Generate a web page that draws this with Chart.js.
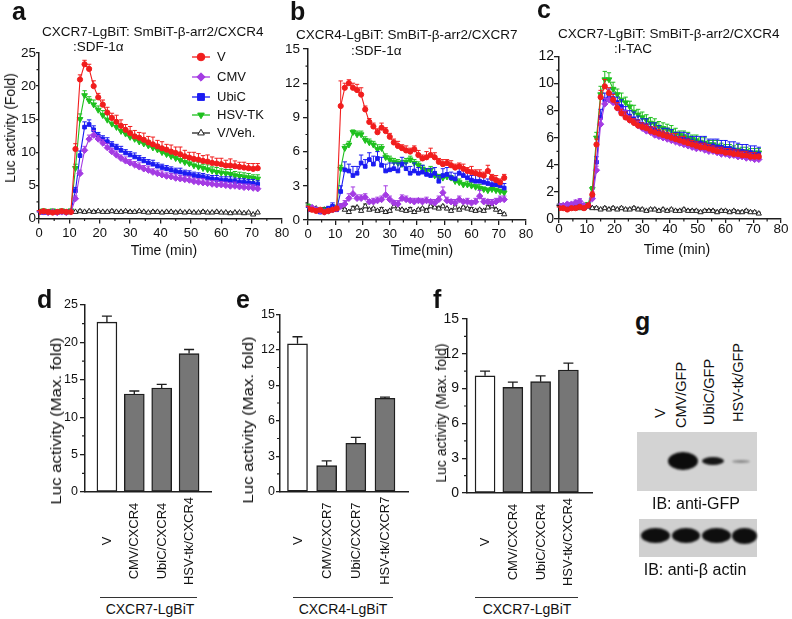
<!DOCTYPE html>
<html><head><meta charset="utf-8">
<script src="https://cdn.jsdelivr.net/npm/chart.js@4.4.1/dist/chart.umd.min.js"></script>
<style>
html,body{margin:0;padding:0;background:#fff;}
#root{position:relative;width:792px;height:619px;overflow:hidden;font-family:"Liberation Sans",Arial,Helvetica,sans-serif;color:#111;}
canvas{position:absolute;}
.t{position:absolute;white-space:nowrap;line-height:1;}
.band{position:absolute;border-radius:50%;filter:blur(1.2px);}
</style></head><body><div id="root"></div>
<script>
// ---------------- DATA ----------------
const timePoints = [0,1.5,3,4.5,6,7.5,9,10.5,12,13.5,15,16.5,18,19.5,21,22.5,24,25.5,27,28.5,30,31.5,33,34.5,36,37.5,39,40.5,42,43.5,45,46.5,48,49.5,51,52.5,54,55.5,57,58.5,60,61.5,63,64.5,66,67.5,69,70.5,72];
const seriesNames = ['V','CMV','UbiC','HSV-TK','V/Veh.'];

// panel a: CXCR7-LgBiT : SmBiT-b-arr2/CXCR4 : SDF-1a
const aV    = [1.0,1.1,1.0,0.9,1.0,1.1,1.0,1.0,10.5,21.0,23.3,22.6,20.0,18.3,17.2,16.0,15.2,14.6,14.0,13.4,12.9,12.4,12.2,11.9,11.5,11.2,10.9,10.6,10.4,10.1,9.9,9.7,9.4,9.2,9.0,8.9,8.7,8.6,8.4,8.3,8.2,8.0,8.0,7.9,7.8,7.7,7.6,7.5,7.6];
const aCMV  = [0.9,1.0,0.9,1.0,0.9,1.0,0.9,1.0,3.0,6.8,10.3,12.0,12.6,12.0,11.4,10.7,10.1,9.6,9.1,8.7,8.4,8.1,7.8,7.5,7.3,7.0,6.8,6.6,6.4,6.3,6.1,6.0,5.9,5.8,5.6,5.5,5.4,5.3,5.2,5.1,5.1,5.0,4.9,4.9,4.8,4.7,4.7,4.6,4.5];
const aUbiC = [1.0,0.9,1.0,1.0,0.9,1.0,1.0,1.1,4.2,9.5,13.8,14.2,13.4,12.5,12.0,11.6,11.1,10.7,10.3,9.9,9.6,9.3,9.0,8.7,8.4,8.2,7.9,7.7,7.5,7.3,7.1,7.0,6.8,6.7,6.5,6.4,6.3,6.1,6.0,5.9,5.8,5.8,5.7,5.6,5.5,5.5,5.4,5.3,5.2];
const aHSV  = [1.1,1.2,1.1,1.2,1.1,1.2,1.1,1.2,7.6,15.0,18.6,17.8,17.2,16.4,15.6,14.9,14.3,13.8,13.2,12.8,12.3,12.0,11.6,11.3,11.0,10.7,10.4,10.0,9.7,9.4,9.1,8.8,8.5,8.3,8.0,7.8,7.6,7.4,7.2,7.0,6.9,6.8,6.7,6.5,6.4,6.3,6.2,6.1,6.0];
const aVeh  = [0.9,1.0,0.9,1.0,0.9,1.0,0.9,1.0,1.0,1.1,1.0,1.1,1.0,1.1,1.0,1.0,1.1,1.0,1.0,1.1,1.0,1.0,1.1,1.0,0.9,1.0,1.0,0.9,1.0,1.0,0.9,1.0,0.9,1.0,0.9,0.9,1.0,0.9,0.9,1.0,0.9,0.9,0.8,0.9,0.9,0.8,0.9,0.6,0.9];
const aVErr    = [0.2,0.1,0.2,0.1,0.2,0.1,0.2,0.2,0.8,0.7,0.6,0.7,0.8,0.6,0.7,0.8,0.7,1.0,0.9,0.8,1.0,0.9,0.8,1.0,0.9,1.1,0.9,1.0,0.8,1.0,0.9,1.1,0.9,0.8,1.0,0.9,0.8,1.0,0.9,0.8,0.9,0.8,1.0,0.8,0.7,0.8,0.7,0.8,0.7];
const aCMVErr  = [0.1,0.1,0.1,0.1,0.1,0.1,0.1,0.1,0.4,0.5,0.6,0.6,0.7,0.5,0.5,0.6,0.5,0.6,0.5,0.6,0.5,0.5,0.6,0.5,0.6,0.5,0.5,0.6,0.5,0.5,0.6,0.5,0.5,0.6,0.5,0.5,0.6,0.5,0.5,0.6,0.5,0.5,0.5,0.6,0.5,0.5,0.5,0.5,0.4];
const aUbiCErr = [0.1,0.1,0.1,0.1,0.1,0.1,0.1,0.1,0.5,0.7,0.8,0.7,0.6,0.5,0.5,0.6,0.5,0.5,0.6,0.5,0.5,0.6,0.5,0.5,0.5,0.6,0.5,0.5,0.5,0.5,0.5,0.6,0.5,0.5,0.5,0.5,0.5,0.5,0.5,0.6,0.5,0.5,0.6,0.5,0.5,0.5,0.5,0.6,0.5];
const aHSVErr  = [0.1,0.1,0.1,0.1,0.1,0.1,0.1,0.1,0.6,0.8,0.7,0.6,0.7,0.6,0.7,0.8,0.7,0.6,0.8,0.7,0.9,0.7,0.8,0.7,0.8,0.7,0.7,0.8,0.7,0.7,0.8,0.7,0.7,0.6,0.7,0.7,0.6,0.7,0.6,0.7,0.6,0.6,0.7,0.6,0.6,0.6,0.6,0.5,0.6];
const aVehErr  = [0.1,0.1,0.1,0.1,0.1,0.1,0.1,0.1,0.1,0.2,0.1,0.1,0.2,0.1,0.1,0.1,0.2,0.1,0.1,0.1,0.2,0.1,0.1,0.1,0.1,0.2,0.1,0.1,0.1,0.1,0.2,0.1,0.1,0.1,0.1,0.1,0.2,0.1,0.1,0.1,0.1,0.1,0.2,0.1,0.1,0.1,0.1,0.1,0.1];

// panel b: CXCR4-LgBiT : SmBiT-b-arr2/CXCR7 : SDF-1a
const bV    = [1.0,0.9,0.8,0.9,0.7,0.8,0.9,1.0,10.0,11.6,12.0,11.6,11.4,11.0,9.7,8.6,8.2,7.7,8.1,7.8,7.3,6.8,6.5,6.3,6.1,6.0,6.2,5.7,5.4,5.5,5.7,5.5,5.1,4.9,5.0,4.8,4.6,4.7,4.5,4.3,4.2,4.1,4.0,3.9,4.3,3.7,3.5,3.3,3.7];
const bCMV  = [1.0,1.1,0.9,0.8,0.7,0.8,0.9,1.0,1.2,1.4,1.9,2.3,1.9,1.9,2.0,1.6,1.6,1.7,1.8,2.2,1.8,1.5,1.4,1.9,1.8,1.7,1.6,1.7,1.6,1.7,1.6,1.5,1.8,2.4,1.7,1.6,1.5,1.8,1.6,1.6,1.5,1.6,2.1,1.6,1.6,1.5,1.6,1.8,1.8];
const bUbiC = [0.9,1.0,0.9,0.7,0.8,1.0,1.2,0.9,2.5,4.4,4.3,3.9,4.1,5.0,4.7,5.3,4.9,5.4,4.8,4.3,4.4,4.5,4.3,4.9,4.5,4.1,4.3,4.1,4.2,4.0,3.9,4.1,3.4,3.9,4.0,3.7,3.6,4.1,3.9,3.7,3.5,3.4,3.4,3.3,3.2,3.1,3.1,3.0,2.8];
const bHSV  = [1.2,1.0,0.9,0.8,0.9,0.8,0.9,1.1,4.5,6.3,6.6,7.7,7.5,7.5,7.0,6.8,6.6,6.2,6.3,5.5,5.3,5.1,5.0,4.9,5.1,5.3,5.0,4.8,4.5,4.3,4.4,3.9,3.8,3.7,3.8,3.7,3.4,3.3,3.1,3.1,3.0,2.9,2.8,2.7,2.6,2.7,2.6,2.5,2.4];
const bVeh  = [1.1,0.9,1.0,0.8,0.9,0.8,0.9,1.0,1.2,0.9,0.7,1.0,1.1,0.8,1.2,0.9,1.0,0.8,0.9,0.7,0.8,1.2,1.0,0.9,0.8,0.9,0.7,0.9,1.0,0.8,1.2,1.1,1.0,1.2,1.0,0.8,1.1,0.9,1.1,1.0,0.9,0.8,0.9,0.8,1.1,1.2,0.9,0.7,0.5];
const bVErr    = [0.2,0.1,0.2,0.1,0.1,0.2,0.1,0.2,2.2,0.4,0.3,0.4,0.5,0.6,0.3,0.3,0.3,0.3,0.4,0.3,0.3,0.3,0.4,0.3,0.4,0.3,0.3,0.4,0.3,0.5,0.6,0.4,0.3,0.4,0.3,0.4,0.3,0.3,0.4,0.3,0.5,0.3,0.4,0.3,0.5,0.3,0.4,0.3,0.3];
const bCMVErr  = [0.2,0.1,0.1,0.2,0.1,0.1,0.1,0.2,0.2,0.3,0.4,0.6,0.3,0.3,0.3,0.2,0.3,0.3,0.3,0.8,0.3,0.2,0.3,0.3,0.3,0.2,0.3,0.2,0.3,0.3,0.2,0.3,0.3,0.5,0.3,0.2,0.3,0.3,0.2,0.3,0.2,0.3,0.5,0.3,0.2,0.3,0.3,0.3,0.3];
const bUbiCErr = [0.2,0.1,0.2,0.2,0.1,0.2,0.3,0.2,0.5,0.7,0.6,0.8,0.6,0.7,0.6,0.6,0.7,0.6,0.7,0.6,0.6,0.5,0.7,0.6,0.5,0.6,0.7,0.5,0.6,0.5,0.6,0.5,0.5,0.6,0.6,0.5,0.5,0.6,0.5,0.5,0.4,0.5,0.4,0.5,0.4,0.4,0.5,0.4,0.4];
const bHSVErr  = [0.2,0.1,0.1,0.1,0.1,0.1,0.1,0.2,0.3,0.3,0.3,0.2,0.3,0.3,0.3,0.3,0.3,0.4,0.3,0.3,0.3,0.3,0.3,0.3,0.3,0.3,0.3,0.3,0.3,0.2,0.3,0.3,0.2,0.3,0.3,0.2,0.3,0.3,0.2,0.3,0.3,0.2,0.3,0.2,0.2,0.3,0.2,0.2,0.2];
const bVehErr  = [0.2,0.1,0.1,0.1,0.2,0.1,0.1,0.1,0.2,0.1,0.1,0.2,0.1,0.1,0.2,0.1,0.1,0.1,0.2,0.1,0.1,0.2,0.1,0.1,0.1,0.2,0.1,0.1,0.1,0.2,0.1,0.1,0.2,0.1,0.1,0.1,0.2,0.1,0.1,0.1,0.2,0.1,0.1,0.1,0.2,0.1,0.1,0.1,0.1];

// panel c: CXCR7-LgBiT : SmBiT-b-arr2/CXCR4 : I-TAC
const cV    = [0.8,0.8,0.7,0.8,0.8,0.9,0.8,1.0,1.8,5.5,9.0,9.8,9.3,8.8,8.2,7.8,7.5,7.3,7.1,6.9,6.8,6.7,6.5,6.4,6.3,6.2,6.1,6.0,5.9,5.8,5.7,5.6,5.5,5.4,5.3,5.3,5.2,5.1,5.0,5.0,4.9,4.9,4.8,4.8,4.7,4.7,4.6,4.6,4.6];
const cCMV  = [1.0,1.0,1.1,1.1,1.2,1.3,1.0,1.0,1.5,3.6,7.0,8.5,8.8,8.6,8.2,7.9,7.6,7.3,7.1,6.9,6.7,6.5,6.4,6.2,6.1,6.0,5.9,5.8,5.7,5.6,5.5,5.4,5.3,5.2,5.2,5.1,5.0,5.0,4.9,4.8,4.8,4.7,4.7,4.6,4.6,4.5,4.5,4.4,4.4];
const cUbiC = [0.9,0.9,0.8,0.9,0.9,1.0,0.9,1.0,1.7,4.2,7.5,8.8,9.1,8.9,8.6,8.3,7.9,7.6,7.4,7.2,7.0,6.9,6.7,6.6,6.4,6.3,6.2,6.1,6.0,5.9,5.9,5.8,5.7,5.6,5.6,5.5,5.4,5.4,5.3,5.3,5.2,5.2,5.1,5.0,5.0,4.9,4.9,4.8,4.8];
const cHSV  = [1.0,1.0,0.9,1.0,1.0,0.9,1.0,1.1,2.2,6.0,9.2,10.3,10.3,9.6,9.2,8.8,8.6,8.3,7.9,7.7,7.5,7.3,7.1,7.0,6.8,6.7,6.6,6.5,6.3,6.2,6.1,6.0,5.9,5.8,5.7,5.6,5.5,5.5,5.4,5.3,5.2,5.2,5.1,5.1,5.0,5.0,4.9,4.9,4.9];
const cVeh  = [0.8,0.8,0.8,0.8,0.8,0.8,0.8,0.9,0.8,0.8,0.7,0.8,0.7,0.8,0.7,0.8,0.7,0.7,0.8,0.7,0.7,0.6,0.7,0.7,0.6,0.7,0.6,0.7,0.6,0.6,0.7,0.6,0.6,0.6,0.5,0.6,0.6,0.6,0.5,0.6,0.6,0.5,0.6,0.5,0.5,0.6,0.5,0.5,0.4];
const cVErr    = [0.1,0.1,0.1,0.1,0.1,0.1,0.1,0.1,0.2,0.4,0.5,0.5,0.4,0.4,0.4,0.3,0.4,0.3,0.3,0.4,0.3,0.3,0.3,0.4,0.3,0.3,0.3,0.3,0.4,0.3,0.4,0.3,0.3,0.3,0.3,0.3,0.3,0.3,0.3,0.3,0.3,0.3,0.3,0.3,0.3,0.3,0.3,0.3,0.2];
const cCMVErr  = [0.1,0.1,0.1,0.1,0.2,0.2,0.1,0.1,0.2,0.3,0.4,0.4,0.4,0.3,0.3,0.3,0.4,0.3,0.3,0.3,0.3,0.4,0.3,0.3,0.3,0.3,0.3,0.4,0.3,0.3,0.3,0.3,0.3,0.4,0.3,0.3,0.3,0.3,0.3,0.3,0.4,0.3,0.3,0.3,0.3,0.3,0.3,0.3,0.3];
const cUbiCErr = [0.1,0.1,0.1,0.1,0.1,0.1,0.1,0.1,0.2,0.4,0.6,0.5,0.5,0.4,0.4,0.5,0.4,0.4,0.5,0.4,0.4,0.5,0.4,0.5,0.5,0.4,0.5,0.5,0.4,0.5,0.5,0.5,0.4,0.5,0.5,0.6,0.5,0.5,0.6,0.5,0.6,0.5,0.6,0.6,0.5,0.6,0.5,0.6,0.5];
const cHSVErr  = [0.1,0.1,0.1,0.1,0.1,0.1,0.1,0.1,0.2,0.4,0.6,0.6,0.5,0.5,0.4,0.5,0.4,0.4,0.5,0.4,0.4,0.4,0.4,0.4,0.4,0.4,0.4,0.4,0.4,0.3,0.4,0.4,0.3,0.4,0.3,0.4,0.3,0.3,0.4,0.3,0.3,0.3,0.3,0.4,0.3,0.3,0.3,0.3,0.3];
const cVehErr  = [0.1,0.1,0.1,0.1,0.1,0.1,0.1,0.1,0.1,0.1,0.1,0.1,0.1,0.1,0.1,0.1,0.1,0.1,0.1,0.1,0.1,0.1,0.1,0.1,0.1,0.1,0.1,0.1,0.1,0.1,0.1,0.1,0.1,0.1,0.1,0.1,0.1,0.1,0.1,0.1,0.1,0.1,0.1,0.1,0.1,0.1,0.1,0.1,0.1];

// bar panels
const dCats = ['V','CMV/CXCR4','UbiC/CXCR4','HSV-tk/CXCR4'];
const dVals = [22.7,13.1,13.9,18.5];
const dErrs = [0.8,0.4,0.5,0.55];
const eCats = ['V','CMV/CXCR7','UbiC/CXCR7','HSV-tk/CXCR7'];
const eVals = [12.5,2.2,4.1,7.9];
const eErrs = [0.6,0.4,0.5,0.1];
const fCats = ['V','CMV/CXCR4','UbiC/CXCR4','HSV-tk/CXCR4'];
const fVals = [10.1,9.1,9.6,10.6];
const fErrs = [0.4,0.45,0.5,0.6];

const aTicksY = {max:25, step:5, minor:2.5};
const bTicksY = {max:15, step:3, minor:1.5};
const cTicksY = {max:12, step:2, minor:1};

// ---------------- RENDER ----------------
const F = "'Liberation Sans', Arial, Helvetica, sans-serif";
Chart.defaults.font.family = F;
Chart.defaults.color = '#111';
const root = document.getElementById('root');
const INK = '#1e1e1e';

const styles = [
  {color:'#f11d1d', fill:'#f11d1d', ps:'circle',   r:2.6, rot:0},
  {color:'#a43be3', fill:'#a43be3', ps:'rectRot',  r:3.2, rot:0},
  {color:'#1b1bf2', fill:'#1b1bf2', ps:'rect',     r:2.6, rot:0},
  {color:'#1ec01e', fill:'#1ec01e', ps:'triangle', r:3.3, rot:180},
  {color:'#222222', fill:'#ffffff', ps:'triangle', r:3.0, rot:0}
];

function marker(ctx, ps, r, rot, x, y){
  ctx.save(); ctx.translate(x,y); ctx.rotate(rot*Math.PI/180); ctx.beginPath();
  if(ps==='circle'){ ctx.arc(0,0,r,0,Math.PI*2); }
  else if(ps==='rect'){ const s=r*0.9; ctx.rect(-s,-s,2*s,2*s); }
  else if(ps==='rectRot'){ const s=r*1.1; ctx.moveTo(0,-s); ctx.lineTo(s,0); ctx.lineTo(0,s); ctx.lineTo(-s,0); ctx.closePath(); }
  else { const h=r*1.5; ctx.moveTo(0,-h*0.66); ctx.lineTo(h*0.58,h*0.34); ctx.lineTo(-h*0.58,h*0.34); ctx.closePath(); }
  ctx.fill(); ctx.stroke(); ctx.restore();
}

function drawErr(chart, meta, ds){
  const ys = chart.scales[meta.yAxisID]; const ctx = chart.ctx;
  ctx.save(); ctx.strokeStyle = ds.errColor || ds.borderColor; ctx.lineWidth = ds.errWidth || 1;
  ctx.beginPath();
  meta.data.forEach((el,i)=>{
    const e = ds.errors[i]; if(!e) return;
    const v = ds.data[i].y; const top = ys.getPixelForValue(v+e);
    ctx.moveTo(el.x, el.y); ctx.lineTo(el.x, top);
    ctx.moveTo(el.x-ds.errCap, top); ctx.lineTo(el.x+ds.errCap, top);
  });
  ctx.stroke(); ctx.restore();
}
const errorBars = { id:'errbars',
  beforeDatasetDraw(chart,args){ const ds=chart.data.datasets[args.index]; if(ds.errors && !ds.errAfter) drawErr(chart,args.meta,ds); },
  afterDatasetDraw(chart,args){ const ds=chart.data.datasets[args.index]; if(ds.errors && ds.errAfter) drawErr(chart,args.meta,ds); }
};
const minorTicks = { id:'minorTicks', afterDraw(chart,args,o){
  if(!o || (!o.x && !o.y)) return; const ctx=chart.ctx;
  ctx.save(); ctx.strokeStyle=INK; ctx.lineWidth=1.2; ctx.beginPath();
  const isMaj=(v,m)=>Math.abs(v/m-Math.round(v/m))<1e-6;
  if(o.y){ const s=chart.scales.y; const n=Math.round((s.max-s.min)/o.y);
    for(let k=0;k<=n;k++){ const v=s.min+k*o.y; if(isMaj(v,o.yMajor)) continue; const p=s.getPixelForValue(v); ctx.moveTo(s.right,p); ctx.lineTo(s.right-o.len,p);} }
  if(o.x){ const s=chart.scales.x; const n=Math.round((s.max-s.min)/o.x);
    for(let k=0;k<=n;k++){ const v=s.min+k*o.x; if(isMaj(v,o.xMajor)) continue; const p=s.getPixelForValue(v); ctx.moveTo(p,s.top); ctx.lineTo(p,s.top+o.len);} }
  ctx.stroke(); ctx.restore(); } };
const seriesLegend = { id:'seriesLegend', afterDraw(chart,args,o){
  if(!o || !o.items) return; const ctx=chart.ctx;
  o.items.forEach((idx,k)=>{ const ds=chart.data.datasets[idx]; const y=o.ys[k];
    ctx.save(); ctx.strokeStyle=ds.borderColor; ctx.lineWidth=1.3; ctx.beginPath(); ctx.moveTo(o.x0,y); ctx.lineTo(o.x1,y); ctx.stroke();
    ctx.fillStyle=ds.pointBackgroundColor; ctx.strokeStyle=ds.pointBorderColor; ctx.lineWidth=1;
    marker(ctx, ds.pointStyle, o.r, ds.pointRotation, (o.x0+o.x1)/2, y);
    ctx.fillStyle='#111'; ctx.font=o.font; ctx.textBaseline='middle'; ctx.textAlign='left'; ctx.fillText(ds.label,o.tx,y+0.5);
    ctx.restore(); }); } };
const rotLabels = { id:'rotLabels', afterDraw(chart,args,o){
  if(!o || !o.labels) return; const xs=chart.scales.x; const ctx=chart.ctx;
  ctx.save(); ctx.font=o.font; ctx.fillStyle='#111'; ctx.textAlign='center'; ctx.textBaseline='middle';
  o.labels.forEach((lab,i)=>{ const px=xs.getPixelForValue(i+1); ctx.save(); ctx.translate(px+0.5, chart.chartArea.bottom+o.offset); ctx.rotate(-Math.PI/2); ctx.fillText(lab,0,0); ctx.restore(); });
  ctx.restore(); } };
Chart.register(errorBars, minorTicks, seriesLegend, rotLabels);

function makeCanvas(x,y,w,h){ const c=document.createElement('canvas'); c.width=w; c.height=h;
  c.style.left=x+'px'; c.style.top=y+'px'; c.style.width=w+'px'; c.style.height=h+'px'; root.appendChild(c); return c; }
function fit(chart, pad, tgt, x0, y0){
  for(let k=0;k<5;k++){ const a=chart.chartArea;
    const dl=(tgt.l-x0)-a.left, dt=(tgt.t-y0)-a.top, dr=a.right-(tgt.r-x0), db=a.bottom-(tgt.b-y0);
    if(Math.abs(dl)+Math.abs(dt)+Math.abs(dr)+Math.abs(db)<0.05) break;
    pad.left+=dl; pad.top+=dt; pad.right+=dr; pad.bottom+=db;
    chart.options.layout.padding={left:pad.left,top:pad.top,right:pad.right,bottom:pad.bottom}; chart.update('none'); }
}

function timeChart(o){
  const [bx,by,bw,bh]=o.box; const cv=makeCanvas(bx,by,bw,bh);
  const datasets=o.series.map((vals,i)=>{ const st=styles[i]; return {
    label:seriesNames[i], data:timePoints.map((t,j)=>({x:t,y:vals[j]})), errors:o.errors[i],
    borderColor:st.color, backgroundColor:st.fill, pointBackgroundColor:st.fill, pointBorderColor:st.color,
    pointStyle:st.ps, pointRadius:st.r, pointRotation:st.rot, pointBorderWidth:1, borderWidth:1.1,
    tension:0, fill:false, errCap:2.2, errWidth:1 }; });
  const pad={left:10,top:10,right:10,bottom:10};
  const leg = o.legend ? {items:[0,1,2,3,4], ys:o.legend.ys.map(v=>v-by), x0:o.legend.x0-bx, x1:o.legend.x1-bx, tx:o.legend.tx-bx, r:3.8, font:`13px ${F}`} : {};
  const chart=new Chart(cv,{type:'line',data:{datasets},options:{
    responsive:false, animation:false, events:[], layout:{padding:pad},
    plugins:{legend:{display:false}, tooltip:{enabled:false},
      minorTicks:{x:5,xMajor:10,y:o.ty.minor,yMajor:o.ty.step,len:2.5}, seriesLegend:leg},
    scales:{
      x:{type:'linear',min:0,max:80,ticks:{stepSize:10,font:{size:o.xfont},color:'#111',padding:o.xpad,maxRotation:0,autoSkip:false},
         grid:{drawOnChartArea:false,drawTicks:true,tickLength:o.xtick,color:INK,lineWidth:1.3},border:{color:INK,width:1.5}},
      y:{type:'linear',min:0,max:o.ty.max,ticks:{stepSize:o.ty.step,font:{size:o.yfont},color:'#111',padding:o.ypad,autoSkip:false},
         grid:{drawOnChartArea:false,drawTicks:true,tickLength:o.ytick,color:INK,lineWidth:1.3},border:{color:INK,width:1.5}}
    }}});
  fit(chart,pad,o.area,bx,by); return chart;
}

function barChart(o){
  const [bx,by,bw,bh]=o.box; const cv=makeCanvas(bx,by,bw,bh);
  const pad={left:10,top:10,right:10,bottom:10};
  const chart=new Chart(cv,{type:'bar',data:{datasets:[{
      data:o.cats.map((c,i)=>({x:i+1,y:o.vals[i]})), errors:o.errs,
      backgroundColor:o.cats.map((c,i)=>i===0?'#ffffff':'#767676'), borderColor:INK, borderWidth:1.4, borderSkipped:false,
      barThickness:20, errCap:5, errWidth:1.3, errColor:INK, errAfter:true }]},
    options:{responsive:false, animation:false, events:[], layout:{padding:pad},
      plugins:{legend:{display:false}, tooltip:{enabled:false},
        minorTicks:{y:o.ty.minor,yMajor:o.ty.step,len:3}, rotLabels:{labels:o.cats, offset:49, font:`13px ${F}`}},
      scales:{
        x:{type:'linear',min:o.xmin,max:o.xmax,offset:false,afterBuildTicks:s=>{s.ticks=[1,2,3,4].map(v=>({value:v}));},
           ticks:{display:false}, grid:{drawOnChartArea:false,drawTicks:false,offset:false,color:INK}, border:{color:INK,width:1.5}},
        y:{type:'linear',min:0,max:o.ty.max,ticks:{stepSize:o.ty.step,font:{size:o.yfont},color:'#111',padding:o.ypad},
           grid:{drawOnChartArea:false,drawTicks:true,tickLength:o.ytick,color:INK,lineWidth:1.3}, border:{color:INK,width:1.5}}
      }}});
  fit(chart,pad,o.area,bx,by); return chart;
}

timeChart({box:[0,20,300,250], area:{l:39,r:282,t:53,b:218.5}, ty:aTicksY,
  series:[aV,aCMV,aUbiC,aHSV,aVeh], errors:[aVErr,aCMVErr,aUbiCErr,aHSVErr,aVehErr],
  xfont:13, yfont:13.5, xpad:2, xtick:5, ypad:0, ytick:3,
  legend:{ys:[57,77,97,115,133], x0:192, x1:210, tx:217}});
timeChart({box:[270,20,280,250], area:{l:308,r:526,t:49,b:220}, ty:bTicksY,
  series:[bV,bCMV,bUbiC,bHSV,bVeh], errors:[bVErr,bCMVErr,bUbiCErr,bHSVErr,bVehErr],
  xfont:13, yfont:13.5, xpad:2, xtick:5, ypad:3, ytick:5});
timeChart({box:[525,20,267,250], area:{l:559,r:781,t:56.5,b:219}, ty:cTicksY,
  series:[cV,cCMV,cUbiC,cHSV,cVeh], errors:[cVErr,cCMVErr,cUbiCErr,cHSVErr,cVehErr],
  xfont:13.5, yfont:14, xpad:-2, xtick:4, ypad:0, ytick:5});

barChart({box:[30,290,200,300], area:{l:85,r:211,t:305,b:492}, ty:{max:25,step:5,minor:2.5},
  cats:dCats, vals:dVals, errs:dErrs, xmin:0.2, xmax:4.8, yfont:12.5, ypad:2, ytick:5});
barChart({box:[235,290,195,300], area:{l:280,r:408,t:314.3,b:491.7}, ty:{max:15,step:3,minor:1.5},
  cats:eCats, vals:eVals, errs:eErrs, xmin:0.4, xmax:4.79, yfont:12.5, ypad:1, ytick:4});
barChart({box:[425,290,185,300], area:{l:467,r:592,t:319,b:493}, ty:{max:15,step:3,minor:1.5},
  cats:fCats, vals:fVals, errs:fErrs, xmin:0.35, xmax:4.85, yfont:14, ypad:3, ytick:5});

// ---------------- TEXT ----------------
function txt(s,o){ const d=document.createElement('div'); d.className='t'; d.textContent=s;
  d.style.fontSize=o.size+'px'; if(o.bold) d.style.fontWeight='bold';
  if(o.rot){ d.style.left=o.cx+'px'; d.style.top=o.cy+'px';
    d.style.transform='translate(-50%,-50%) rotate(-90deg)'+(o.sx?` scaleX(${o.sx})`:''); }
  else if(o.rotB){ d.style.left=(o.cx-0.49*o.size)+'px'; d.style.top=o.bottom+'px'; d.style.transformOrigin='0 0'; d.style.transform='rotate(-90deg)'; }
  else if(o.center){ d.style.left=(o.x-150)+'px'; d.style.width='300px'; d.style.textAlign='center'; d.style.top=(o.cy-0.49*o.size)+'px'; }
  else { d.style.left=o.x+'px'; d.style.top=(o.top!==undefined?o.top:(o.cy-0.49*o.size))+'px'; }
  root.appendChild(d); return d; }
function box(l,t,w,h,bg,cls){ const d=document.createElement('div'); d.style.position='absolute'; d.style.left=l+'px'; d.style.top=t+'px';
  d.style.width=w+'px'; d.style.height=h+'px'; d.style.background=bg; if(cls) d.className=cls; root.appendChild(d); return d; }

// panel letters
[['a',12,-1.2],['b',290,-1.2],['c',537,-3.2],['d',37,286.8],['e',236,286.8],['f',433,286.8],['g',635,308.8]]
  .forEach(([s,x,t])=>txt(s,{x:x,top:t,size:25,bold:true}));
// titles
txt('CXCR7-LgBiT: SmBiT-β-arr2/CXCR4',{x:42,cy:32,size:13.5});
txt(':SDF-1α',{x:73,cy:47,size:13.5});
txt('CXCR4-LgBiT: SmBiT-β-arr2/CXCR7',{x:296,cy:34.5,size:13.5});
txt(':SDF-1α',{x:351,cy:51,size:13.5});
txt('CXCR7-LgBiT: SmBiT-β-arr2/CXCR4',{x:558,cy:33.3,size:13.5});
txt(':I-TAC',{x:614,cy:49,size:13.5});
// axis titles
txt('Time (min)',{x:164,cy:249.5,size:14,center:true});
txt('Time(min)',{x:422,cy:249.5,size:14,center:true});
txt('Time (min)',{x:677,cy:249,size:14,center:true});
txt('Luc activity (Fold)',{rot:true,cx:10,cy:128,size:14});
txt('Luc activity (Max. fold)',{rot:true,cx:56,cy:421,size:14,sx:1.2});
txt('Luc activity (Max. fold)',{rot:true,cx:248,cy:420,size:14,sx:1.2});
txt('Luc activity (Max. fold)',{rot:true,cx:441,cy:413,size:14});
// group labels
[[100,97,150,'CXCR7-LgBiT'],[293,100,343,'CXCR4-LgBiT'],[475,103,527,'CXCR7-LgBiT']].forEach(([l,w,c,s])=>{
  box(l,596.5,w,1.2,'#333'); txt(s,{x:c,cy:609,size:14,center:true}); });

// panel g: western blot
txt('V',{rotB:true,cx:660,bottom:418,size:14.5});
txt('CMV/GFP',{rotB:true,cx:681,bottom:428,size:14.5});
txt('UbiC/GFP',{rotB:true,cx:709,bottom:425,size:14.5});
txt('HSV-tk/GFP',{rotB:true,cx:738,bottom:422,size:14.5});
box(637,432,120,59,'#d3d3d3');
box(668,452,30,18,'#0c0c0c','band');
box(702,457,22,8,'#151515','band');
box(732,459.5,18,3,'#8a8a8a','band');
txt('IB: anti-GFP',{x:696,cy:504,size:16,center:true});
box(639,519,118,38,'#d0d0d0');
box(641,528,29,15,'#0e0e0e','band');
box(672,528,28,15,'#0e0e0e','band');
box(702,528,29,15,'#0e0e0e','band');
box(732,528,25,16,'#0e0e0e','band');
txt('IB: anti-β actin',{x:695,cy:570,size:16,center:true});

// sanity check on array lengths
const all={aV,aCMV,aUbiC,aHSV,aVeh,aVErr,aCMVErr,aUbiCErr,aHSVErr,aVehErr,bV,bCMV,bUbiC,bHSV,bVeh,bVErr,bCMVErr,bUbiCErr,bHSVErr,bVehErr,cV,cCMV,cUbiC,cHSV,cVeh,cVErr,cCMVErr,cUbiCErr,cHSVErr,cVehErr};
const bad=Object.entries(all).filter(([k,v])=>v.length!==timePoints.length).map(([k,v])=>k+':'+v.length);
if(bad.length) setTimeout(()=>{throw new Error('length mismatch '+bad.join(','));},0);
</script></body></html>
